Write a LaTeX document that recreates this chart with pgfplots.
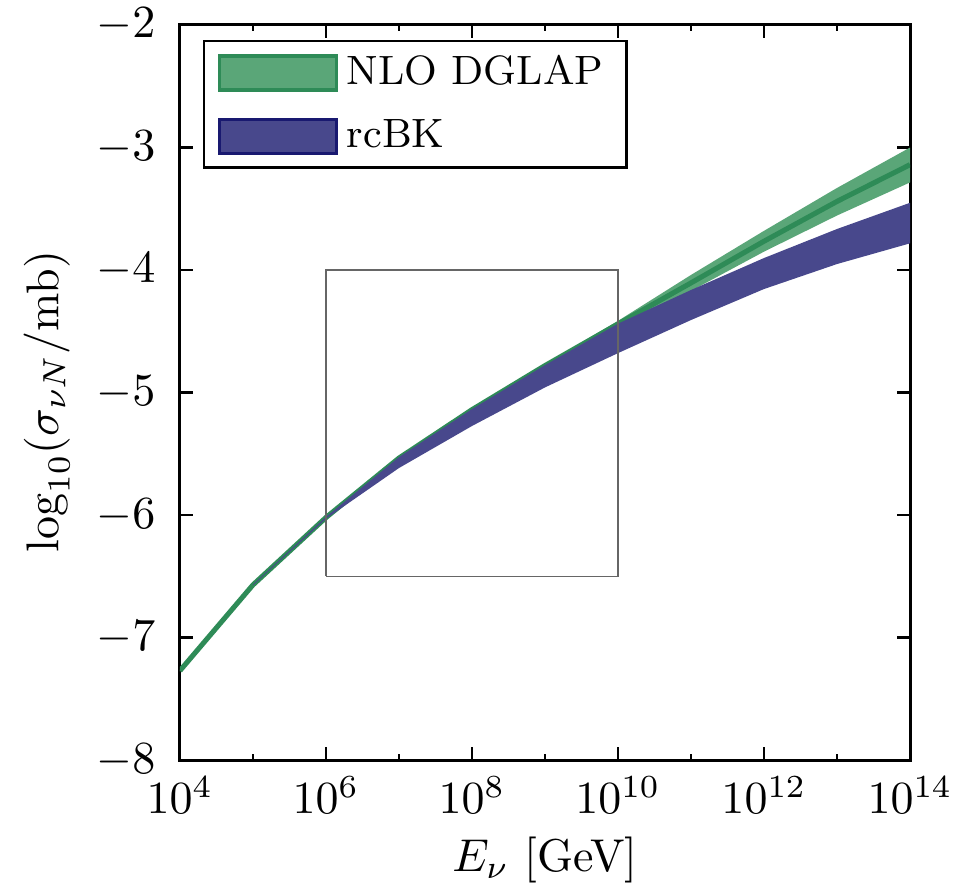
\documentclass[border=0pt]{standalone}
\usepackage{pgfplots}
\pgfplotsset{compat=1.18}
\definecolor{gfill}{HTML}{5AA678}
\definecolor{gline}{HTML}{2E8B57}
\definecolor{bfill}{HTML}{48488C}
\definecolor{bline}{HTML}{191970}
\begin{document}
\begin{tikzpicture}
\begin{axis}[
  scale only axis,
  width=158.7pt, height=159.8pt,
  xmode=log,
  xmin=1e4, xmax=1e14,
  ymin=-8, ymax=-2,
  xtick={1e4,1e6,1e8,1e10,1e12,1e14},
  minor xtick={1e5,1e7,1e9,1e11,1e13},
  ytick={-8,-7,-6,-5,-4,-3,-2},
  tick align=inside,
  major tick length=2.8pt,
  minor tick length=1.4pt,
  every tick/.style={black, line width=0.6pt},
  axis line style={line width=0.65pt},
  yticklabel style={xshift=-1.8pt, inner ysep=0pt},
  xlabel={$E_\nu$ [GeV]},
  ylabel={$\log_{10}(\sigma_{\nu N}/\mathrm{mb})$},
  every axis x label/.style={at={(axis description cs:0.5,0)}, yshift=-21.7pt, anchor=center},
  every axis y label/.style={at={(axis description cs:0,0.5)}, xshift=-28.9pt, yshift=-2pt, rotate=90, anchor=center},
  legend cell align=left,
  legend style={at={(0.031,0.98)}, anchor=north west, draw=black, line width=0.6pt,
    font=\fontsize{8.9}{10.7}\selectfont, row sep=2.1pt, inner xsep=3pt, inner ysep=1pt},
  legend image code/.code={\draw[#1] (0pt,-3.7pt) rectangle (25.4pt,3.7pt);},
]
\addlegendimage{fill=gfill, draw=gline, line width=0.7pt}
\addlegendentry{NLO DGLAP\hspace{3pt}}
\addlegendimage{fill=bfill, draw=bline, line width=0.7pt}
\addlegendentry{rcBK}

% NLO DGLAP band: upper edge then lower edge reversed
\addplot[fill=gfill, draw=none, forget plot] coordinates {
(1e4,-7.262)(1e5,-6.562)(1e6,-6.010)(1e7,-5.523)(1e8,-5.128)(1e9,-4.768)(1e10,-4.415)(1e11,-4.040)(1e12,-3.680)(1e13,-3.330)(1e14,-3.000)
(1e14,-3.285)(1e13,-3.555)(1e12,-3.850)(1e11,-4.170)(1e10,-4.465)(1e9,-4.792)(1e8,-5.152)(1e7,-5.547)(1e6,-6.030)(1e5,-6.578)(1e4,-7.278)};
\addplot[gline, line width=1.1pt, forget plot] coordinates {
(1e4,-7.27)(1e5,-6.57)(1e6,-6.02)(1e7,-5.535)(1e8,-5.14)(1e9,-4.78)(1e10,-4.44)(1e11,-4.105)(1e12,-3.765)(1e13,-3.44)(1e14,-3.14)};

% rcBK band
\addplot[fill=bfill, draw=none, forget plot] coordinates {
(1e5,-6.567)(1e6,-6.015)(1e7,-5.527)(1e8,-5.135)(1e9,-4.776)(1e10,-4.438)(1e11,-4.163)(1e12,-3.902)(1e13,-3.665)(1e14,-3.451)
(1e14,-3.782)(1e13,-3.951)(1e12,-4.155)(1e11,-4.408)(1e10,-4.678)(1e9,-4.958)(1e8,-5.273)(1e7,-5.616)(1e6,-6.030)(1e5,-6.574)};

\addplot[draw=black!60, line width=0.35pt, forget plot] coordinates {
(1e6,-6.5)(1e10,-6.5)(1e10,-4)(1e6,-4)(1e6,-6.5)};
\end{axis}
\pgfresetboundingbox
\path ([xshift=-39.1pt, yshift=-27.4pt]current axis.south west) rectangle ([xshift=9.35pt, yshift=5.43pt]current axis.north east);
\end{tikzpicture}
\end{document}
